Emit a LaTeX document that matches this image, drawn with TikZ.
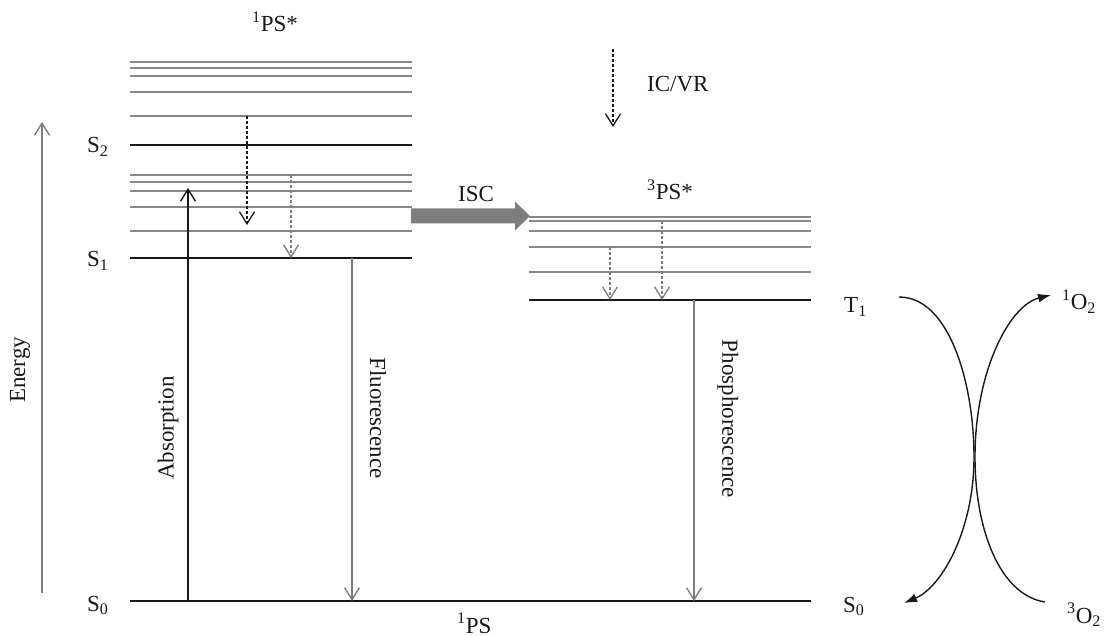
\documentclass[tikz,border=0pt]{standalone}
\usepackage{fontspec}
\setmainfont{Liberation Serif}
\usetikzlibrary{arrows.meta,calc}
\definecolor{lvgrey}{RGB}{135,135,135}
\definecolor{arrgrey}{RGB}{125,125,125}
\definecolor{ink}{RGB}{25,25,25}
\tikzset{
  mainlvl/.style={draw=ink, line width=1.6pt},
  sublvl/.style={draw=lvgrey, line width=1.3pt},
  vtip/.style={-{Straight Barb[length=12pt,width=15pt]}},
  solidarr/.style={vtip, line width=1.4pt},
  dasharr/.style={vtip, line width=1.3pt, dash pattern=on 3pt off 2pt},
  curvarr/.style={draw=ink, line width=1.4pt, -{Latex[length=13pt,width=9pt]}},
  lbl/.style={font=\fontsize{23}{27}\selectfont, inner sep=0pt, text=ink},
}
\begin{document}
\begin{tikzpicture}[x=1pt,y=-1pt]
\useasboundingbox (0,0) rectangle (1104,636);

% ---------- singlet manifold ----------
\foreach \yy in {62,68,76,92,116,175,182,191,207,231}
  \draw[sublvl] (130,\yy) -- (412,\yy);
\coordinate (S2l) at (130,145); \coordinate (S2r) at (412,145);
\coordinate (S1l) at (130,258); \coordinate (S1r) at (412,258);
\draw[mainlvl] (S2l) -- (S2r);
\draw[mainlvl] (S1l) -- (S1r);

% ---------- triplet manifold ----------
\foreach \yy in {217,221,231,247,272}
  \draw[sublvl] (529,\yy) -- (811,\yy);
\coordinate (T1l) at (529,300); \coordinate (T1r) at (811,300);
\draw[mainlvl] (T1l) -- (T1r);

% ---------- ground state ----------
\coordinate (S0l) at (130,601); \coordinate (S0r) at (811,601);
\draw[mainlvl] (S0l) -- (S0r);

% ---------- labels ----------
\node[lbl, anchor=base west] (lS2) at (87,153) {S\textsubscript{2}};
\node[lbl, anchor=base west] (lS1) at (87,267) {S\textsubscript{1}};
\node[lbl, anchor=base west] (lS0) at (87,611) {S\textsubscript{0}};
\node[lbl, anchor=base west] (lT1) at (844,313) {T\textsubscript{1}};
\node[lbl, anchor=base west] (lS0b) at (843,612) {S\textsubscript{0}};
\node[lbl, anchor=base west] (l1O2) at (1062,310) {\textsuperscript{1}O\textsubscript{2}};
\node[lbl, anchor=base west] (l3O2) at (1067,623) {\textsuperscript{3}O\textsubscript{2}};
\node[lbl, anchor=base west] (l1PSs) at (252,32) {\textsuperscript{1}PS*};
\node[lbl, anchor=base west] (l3PSs) at (647,200) {\textsuperscript{3}PS*};
\node[lbl, anchor=base west] (l1PS) at (457,633) {\textsuperscript{1}PS};
\node[lbl, anchor=base west] (lic) at (647,92) {IC/VR};
\node[lbl, anchor=base west] (lisc) at (458,202) {ISC};
\node[lbl, rotate=90] (lE) at (20,370) {Energy};
\node[lbl, rotate=90] (lAbs) at (168,428) {Absorption};
\node[lbl, rotate=-90] (lFl) at (378,418) {Fluorescence};
\node[lbl, rotate=-90] (lPh) at (728,419) {Phosphorescence};

% ---------- energy axis ----------
\coordinate (Eb) at (42,593); \coordinate (Et) at (42,122);
\draw[solidarr, draw=arrgrey] (Eb) -- (Et);

% ---------- radiative transitions ----------
\coordinate (absB) at (188,601); \coordinate (absT) at (188,188);
\draw[solidarr, draw=ink] (absB) -- (absT);
\coordinate (flT) at (352,258); \coordinate (flB) at (352,601);
\draw[solidarr, draw=arrgrey] (flT) -- (flB);
\coordinate (phT) at (694,300); \coordinate (phB) at (694,601);
\draw[solidarr, draw=arrgrey] (phT) -- (phB);

% ---------- non-radiative (IC/VR) ----------
\coordinate (d1a) at (247,116); \coordinate (d1b) at (247,225);
\draw[dasharr, draw=ink] (d1a) -- (d1b);
\coordinate (d2a) at (291,175); \coordinate (d2b) at (291,258);
\draw[dasharr, draw=arrgrey] (d2a) -- (d2b);
\coordinate (icA) at (613,49); \coordinate (icB) at (613,127);
\draw[dasharr, draw=ink] (icA) -- (icB);
\coordinate (d3a) at (610,247); \coordinate (d3b) at (610,300);
\draw[dasharr, draw=arrgrey] (d3a) -- (d3b);
\coordinate (d4a) at (662,221); \coordinate (d4b) at (662,300);
\draw[dasharr, draw=arrgrey] (d4a) -- (d4b);

% ---------- ISC ----------
\coordinate (iscA) at (411,216); \coordinate (iscB) at (530,216);
\fill[arrgrey] ($(iscA)+(0,-7.5)$) -- ($(iscB)+(-15,-7.5)$) -- ($(iscB)+(-15,-14.5)$)
  -- (iscB) -- ($(iscB)+(-15,14.5)$) -- ($(iscB)+(-15,7.5)$) -- ($(iscA)+(0,7.5)$) -- cycle;

% ---------- energy transfer to oxygen ----------
\coordinate (cT1) at (899,297); \coordinate (cX) at (974,457); \coordinate (cS0) at (904,603);
\coordinate (c3O) at (1045,602); \coordinate (cX2) at (975,457); \coordinate (c1O) at (1051,295);
\draw[curvarr] (cT1) .. controls (950,297) and (974,385) .. (cX)
  .. controls (974,530) and (942,587) .. (cS0);
\draw[curvarr] (c3O) .. controls (1000,595) and (975,530) .. (cX2)
  .. controls (975,370) and (1010,305) .. (c1O);
\end{tikzpicture}
\end{document}
